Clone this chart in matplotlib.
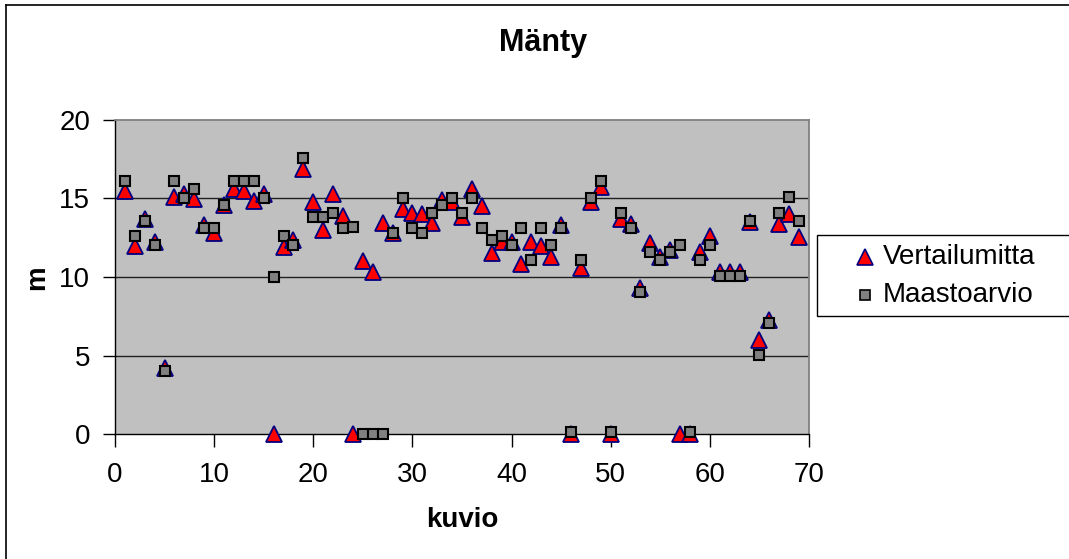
import matplotlib
matplotlib.use("Agg")
import matplotlib.pyplot as plt
from matplotlib.lines import Line2D
from matplotlib.patches import Rectangle

plt.rcParams['font.family'] = ['Liberation Sans', 'DejaVu Sans']

kuvio = list(range(1, 70))
vertailumitta = [15.5, 12.0, 13.7, 12.25, 4.2, 15.1, 15.3, 14.95, 13.3, 12.8,
                 14.6, 15.6, 15.5, 14.85, 15.3, 0.0, 11.9, 12.35, 16.85, 14.75,
                 13.0, 15.3, 13.9, 0.0, 11.0, 10.3, 13.45, 12.8, 14.3, 14.1,
                 14.0, 13.45, 14.9, 14.75, 13.85, 15.6, 14.5, 11.5, 12.2, 12.25,
                 10.8, 12.25, 11.95, 11.3, 13.3, 0.0, 10.6, 14.8, 15.75, 0.0,
                 13.7, 13.4, 9.3, 12.15, 11.3, 11.7, 0.0, 0.0, 11.6, 12.6,
                 10.3, 10.3, 10.3, 13.5, 6.0, 7.25, 13.4, 14.0, 12.55]
maastoarvio = [16.1, 12.6, 13.55, 12.05, 4.0, 16.1, 15.05, 15.6, 13.1, 13.1,
               14.6, 16.1, 16.1, 16.1, 15.05, 10.0, 12.6, 12.05, 17.6, 13.8,
               13.8, 14.1, 13.1, 13.2, 0.0, 0.0, 0.0, 12.8, 15.05, 13.1,
               12.8, 14.1, 14.6, 15.05, 14.1, 15.05, 13.1, 12.35, 12.6, 12.05,
               13.1, 11.1, 13.1, 12.05, 13.1, 0.1, 11.1, 15.05, 16.1, 0.1,
               14.1, 13.1, 9.05, 11.6, 11.1, 11.6, 12.05, 0.1, 11.1, 12.05,
               10.05, 10.05, 10.05, 13.55, 5.05, 7.05, 14.1, 15.1, 13.55]

W, H = 1069, 559
fig = plt.figure(figsize=(W / 100, H / 100), dpi=100)

# outer chart border
fig.add_artist(Line2D([6 / W, 6 / W], [0, 1 - 5 / H], transform=fig.transFigure, color='black', lw=1.2))
fig.add_artist(Line2D([6 / W, 1], [1 - 5 / H, 1 - 5 / H], transform=fig.transFigure, color='black', lw=1.2))

ax = fig.add_axes([115 / W, 1 - 434 / H, (809 - 115) / W, (434 - 120) / H])
ax.set_facecolor('#C0C0C0')
ax.set_xlim(0, 70)
ax.set_ylim(0, 20)
ax.set_xticks(range(0, 71, 10))
ax.set_yticks(range(0, 21, 5))
for y in (5, 10, 15):
    ax.axhline(y, color='#202020', lw=1.0, zorder=1)
for side in ('top', 'right'):
    ax.spines[side].set_color('#808080')
    ax.spines[side].set_linewidth(1.3)
for side in ('left', 'bottom'):
    ax.spines[side].set_color('black')
    ax.spines[side].set_linewidth(1.0)
ax.tick_params(axis='both', direction='out', length=9, width=1, labelsize=20, color='black')
ax.tick_params(axis='y', pad=9)
ax.tick_params(axis='x', pad=11)

ax.plot(kuvio, vertailumitta, linestyle='none', marker='^', markersize=12,
        markerfacecolor='#FF0000', markeredgecolor='#000080', markeredgewidth=1.3, zorder=3,
        clip_on=False)
ax.plot(kuvio, maastoarvio, linestyle='none', marker='s', markersize=7.5,
        markerfacecolor='#808080', markeredgecolor='black', markeredgewidth=1.5, zorder=4,
        clip_on=False)

fig.text(543 / W, 1 - 43 / H, 'Mänty', ha='center', va='center', fontsize=22, fontweight='bold')
fig.text(462 / W, 1 - 520 / H, 'kuvio', ha='center', va='center', fontsize=20, fontweight='bold')
fig.text(37 / W, 1 - 278 / H, 'm', ha='center', va='center', fontsize=20, fontweight='bold', rotation=90)

# legend box
fig.add_artist(Rectangle((817 / W, 1 - 316 / H), (1080 - 817) / W, (316 - 235) / H,
                         transform=fig.transFigure, facecolor='white', edgecolor='black', lw=1.0))
fig.add_artist(Line2D([865 / W], [1 - 257 / H], transform=fig.transFigure, marker='^', markersize=11,
                      markerfacecolor='#FF0000', markeredgecolor='#000080', markeredgewidth=1.2))
fig.add_artist(Line2D([865 / W], [1 - 295 / H], transform=fig.transFigure, marker='s', markersize=6.5,
                      markerfacecolor='#808080', markeredgecolor='black', markeredgewidth=1.2))
fig.text(883 / W, 1 - 257 / H, 'Vertailumitta', ha='left', va='center', fontsize=20)
fig.text(883 / W, 1 - 295 / H, 'Maastoarvio', ha='left', va='center', fontsize=20)

fig.savefig('out.png', dpi=100)
